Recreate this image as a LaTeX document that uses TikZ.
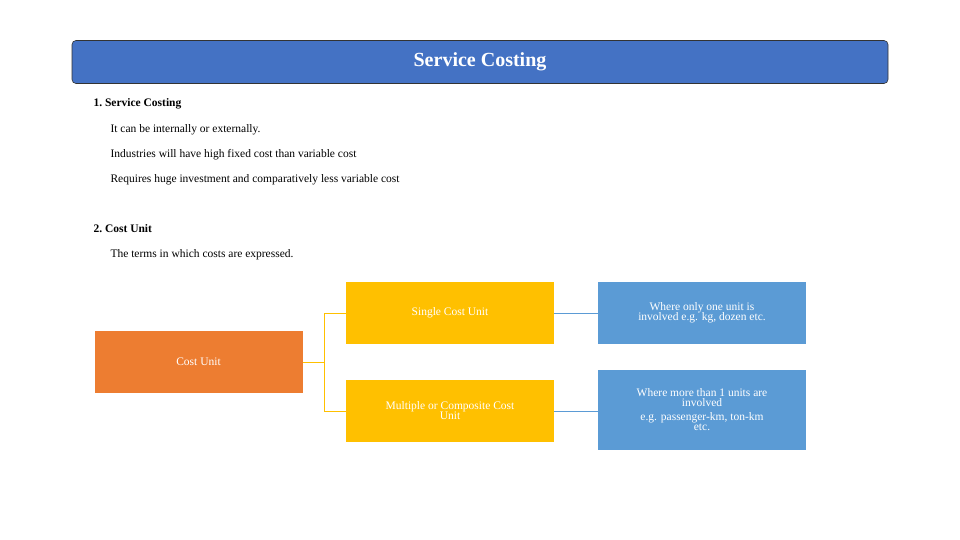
\documentclass[tikz,border=0pt]{standalone}
\usepackage{fontspec}
\setmainfont{Liberation Serif}
\usepackage{tikz}

\definecolor{titleblue}{HTML}{4472C4}
\definecolor{costorange}{HTML}{ED7D31}
\definecolor{unityellow}{HTML}{FFC000}
\definecolor{notesblue}{HTML}{5B9BD5}

\tikzset{
  box/.style={minimum width=208pt, minimum height=62pt, inner sep=2pt,
    text=white, align=center, font=\fontsize{11.5}{12}\selectfont},
  line/.style={draw=#1, line width=0.8pt},
  body/.style={anchor=west, font=\fontsize{11.5}{13}\selectfont},
  head/.style={anchor=west, font=\fontsize{11.5}{13}\selectfont\bfseries}
}

\begin{document}
\begin{tikzpicture}[x=1pt,y=-1pt]
  \useasboundingbox (0,0) rectangle (960,540);

  %% title bar
  \node [draw=black!80, fill=titleblue, rounded corners=4pt, line width=0.6pt,
    minimum width=816pt, minimum height=43pt, text=white,
    font=\fontsize{20}{22}\selectfont\bfseries] (title) at (480,62) {Service Costing};

  %% text block
  \node [head] (h1) at (90,104) {1.\ Service Costing};
  \node [body] (t1) at (107,130) {It can be internally or externally.};
  \node [body] (t2) at (107,155) {Industries will have high fixed cost than variable cost};
  \node [body] (t3) at (107,180) {Requires huge investment and comparatively less variable cost};

  \node [head] (h2) at (90,229) {2.\ Cost Unit};
  \node [body] (t4) at (107,255) {The terms in which costs are expressed.};

  %% chart
  \node [box, fill=costorange] (cost) at (198.5,362) {Cost Unit};
  \node [box, fill=unityellow] (single) at (450,313) {Single Cost Unit};
  \node [box, fill=unityellow] (multi) at (450,411) {Multiple or Composite Cost\\[-2pt]Unit};
  \node [box, fill=notesblue] (one) at (702,313) {Where only one unit is\\[-2pt]involved e.g. kg, dozen etc.};
  \node [box, fill=notesblue, minimum height=80pt] (more) at (702,410)
    {Where more than 1 units are\\[-2pt]involved\\[2pt]e.g. passenger-km, ton-km\\[-2pt]etc.};

  \coordinate (fork) at (324,362);
  \draw [line=unityellow] (cost.east) -- (fork);
  \draw [line=unityellow] (fork) |- (single.west);
  \draw [line=unityellow] (fork) |- (multi.west);
  \draw [line=notesblue] (single.east) -- (one.west);
  \draw [line=notesblue] (multi.east) -- (more.west |- multi.east);
\end{tikzpicture}
\end{document}
